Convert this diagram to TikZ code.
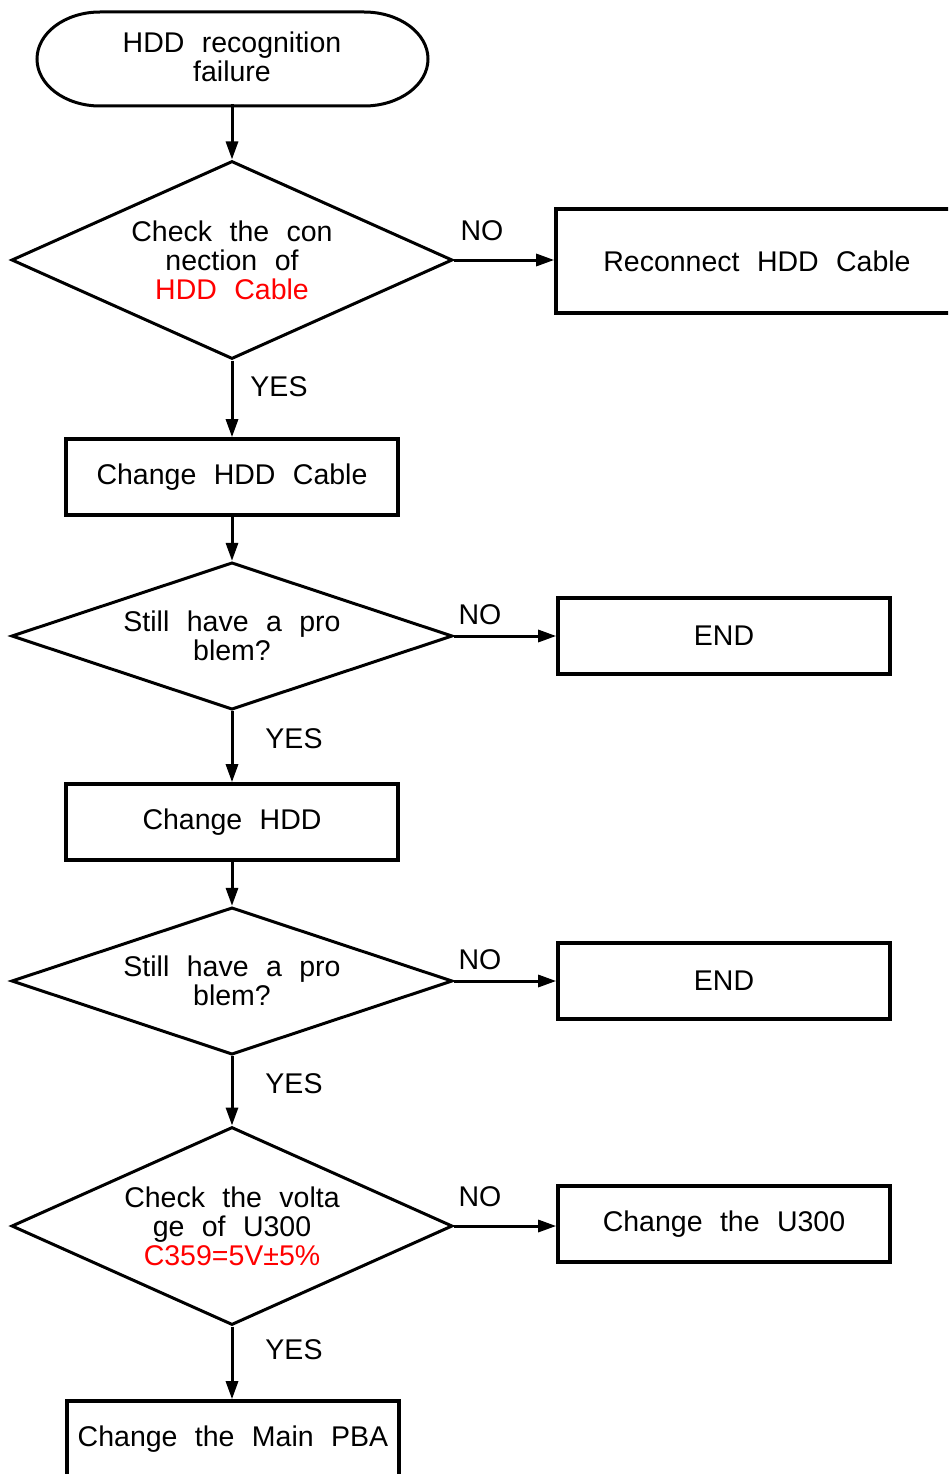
\documentclass[tikz,border=0pt]{standalone}
\usepackage{fontspec}
\setmainfont{Liberation Sans}[WordSpace=2.2]
\usetikzlibrary{arrows.meta,shapes.geometric}
\begin{document}
\begin{tikzpicture}[x=1pt,y=-1pt,
  every node/.style={font=\fontsize{28.5}{29}\selectfont, align=center, inner sep=0pt},
  boxnode/.style={draw, line width=3.6pt, rectangle},
  decnode/.style={draw, line width=3pt, diamond, aspect=2.23, minimum width=441pt, minimum height=198pt},
  flow/.style={line width=3pt, -{Triangle[length=18pt,width=12pt]}}
]
\useasboundingbox (0,0) rectangle (948,1474);
\clip (0,0) rectangle (948,1474);
% terminator
\draw[line width=3pt] (100,12) -- (364,12) arc[start angle=-90,end angle=90,x radius=64,y radius=47] -- (100,106) arc[start angle=90,end angle=270,x radius=63,y radius=47] -- cycle;
\node (start) [minimum width=391pt, minimum height=94pt] at (232,57) {HDD recognition\\failure};
% decision 1
\node (d1) [decnode] at (232,260) {Check the con\\nection of\\\textcolor{red}{HDD Cable}};
\node (reconnect) [boxnode, minimum width=402pt, minimum height=104pt] at (757,261) {Reconnect HDD Cable};
\node (chcable) [boxnode, minimum width=332pt, minimum height=76pt] at (232,477) {Change HDD Cable};
% decision 2
\node (d2) [decnode, minimum height=142pt] at (232,636) {Still have a pro\\blem?};
\node (end1) [boxnode, minimum width=332pt, minimum height=76pt] at (724,636) {END};
\node (chhdd) [boxnode, minimum width=332pt, minimum height=76pt] at (232,822) {Change HDD};
% decision 3
\node (d3) [decnode, minimum height=142pt] at (232,981) {Still have a pro\\blem?};
\node (end2) [boxnode, minimum width=332pt, minimum height=76pt] at (724,981) {END};
% decision 4
\node (d4) [decnode] at (232,1226) {Check the volta\\ge of U300\\\textcolor{red}{C359=5V±5\%}};
\node (chu300) [boxnode, minimum width=332pt, minimum height=76pt] at (724,1224) {Change the U300};
\node (chpba) [boxnode, minimum width=332pt, minimum height=76pt] at (233,1439) {Change the Main PBA};
% connectors
\draw[flow] (start.south) -- (d1.north);
\draw[flow] (d1.east) -- (d1.east -| reconnect.west);
\draw[flow] (d1.south) -- (chcable.north);
\draw[flow] (chcable.south) -- (d2.north);
\draw[flow] (d2.east) -- (end1.west);
\draw[flow] (d2.south) -- (chhdd.north);
\draw[flow] (chhdd.south) -- (d3.north);
\draw[flow] (d3.east) -- (end2.west);
\draw[flow] (d3.south) -- (d4.north);
\draw[flow] (d4.east) -- (d4.east -| chu300.west);
\draw[flow] (d4.south) -- (d4.south |- chpba.north);
% labels
\node (no1) at (482,231) {NO};
\node (yes1) at (279,387) {YES};
\node (no2) at (480,615) {NO};
\node (yes2) at (294,739) {YES};
\node (no3) at (480,960) {NO};
\node (yes3) at (294,1084) {YES};
\node (no4) at (480,1197) {NO};
\node (yes4) at (294,1350) {YES};
\end{tikzpicture}
\end{document}
